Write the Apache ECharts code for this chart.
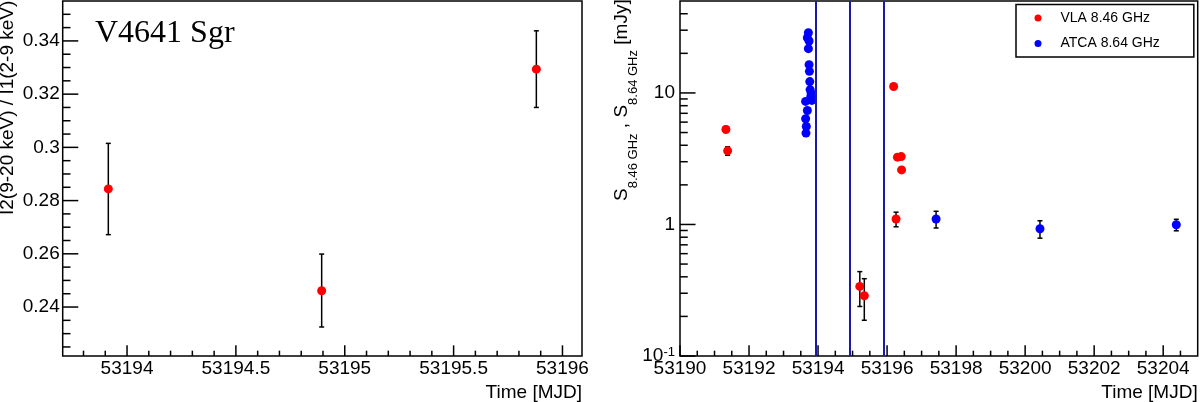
<!DOCTYPE html>
<html><head><meta charset="utf-8">
<script src="https://cdn.jsdelivr.net/npm/echarts@6/dist/echarts.min.js"></script>
<style>html,body{margin:0;padding:0;background:#fff}#c{width:1200px;height:402px}</style>
</head><body><div id="c"></div>
<script>
// ---------------- data ----------------
// Left panel: hardness ratio I2(9-20 keV)/I1(2-9 keV)
const hrTime  = [53193.914, 53194.894, 53195.880];
const hrRatio = [0.2844, 0.2461, 0.3294];
const hrLow   = [0.2672, 0.2325, 0.3150];
const hrHigh  = [0.3015, 0.2599, 0.3438];

// Right panel: VLA 8.46 GHz
const vlaTime = [53191.33, 53191.38, 53195.21, 53195.34, 53196.19, 53196.26, 53196.30, 53196.41, 53196.42];
const vlaFlux = [5.28, 3.63, 0.338, 0.287, 11.2, 1.10, 3.25, 3.28, 2.60];
const vlaErr  = [0.28, 0.27, 0.100, 0.100, 0.30, 0.14, 0.10, 0.10, 0.08];

// Right panel: ATCA 8.64 GHz
const atcaTime = [53193.72, 53193.69, 53193.74, 53193.72, 53193.74, 53193.75, 53193.76, 53193.77, 53193.80, 53193.79,
                  53193.82, 53193.64, 53193.69, 53193.64, 53193.66, 53193.65, 53197.42, 53200.43, 53204.38];
const atcaFlux = [28.7, 26.3, 24.8, 21.7, 16.4, 14.6, 12.2, 10.6, 9.97, 9.4,
                  8.77, 8.62, 7.36, 6.37, 5.56, 4.95, 1.10, 0.927, 0.995];
const atcaErr  = [0.6, 0.6, 0.5, 0.5, 0.4, 0.4, 0.3, 0.3, 0.3, 0.3,
                  0.25, 0.25, 0.25, 0.25, 0.25, 0.25, 0.16, 0.14, 0.10];

// X-ray observation epochs (vertical lines)
const xrayEpochs = [53193.93, 53194.91, 53195.90];

// axis ranges
const L_XMIN = 53193.7045, L_XMAX = 53196.0897;
const L_YMIN = 0.2216, L_YMAX = 0.3550;
const R_XMIN = 53190, R_XMAX = 53205;
const R_YMIN = 0.1, R_YMAX = 50;

// tick values
const leftXMajor = [53194, 53194.5, 53195, 53195.5, 53196];
const leftXMinor = [53193.8, 53193.9, 53194.1, 53194.2, 53194.3, 53194.4, 53194.6, 53194.7, 53194.8, 53194.9,
                    53195.1, 53195.2, 53195.3, 53195.4, 53195.6, 53195.7, 53195.8, 53195.9];
const leftYMajor = [0.24, 0.26, 0.28, 0.30, 0.32, 0.34];
const leftYMinor = [0.225, 0.23, 0.235, 0.245, 0.25, 0.255, 0.265, 0.27, 0.275, 0.285, 0.29, 0.295,
                    0.305, 0.31, 0.315, 0.325, 0.33, 0.335, 0.345, 0.35];
const rightXMajor = [53190, 53192, 53194, 53196, 53198, 53200, 53202, 53204];
const rightXMinor = [53190.5, 53191, 53191.5, 53192.5, 53193, 53193.5, 53194.5, 53195, 53195.5, 53196.5, 53197, 53197.5,
                     53198.5, 53199, 53199.5, 53200.5, 53201, 53201.5, 53202.5, 53203, 53203.5, 53204.5];
const rightYMajor = [0.1, 1, 10];
const rightYMajorLabels = ['10^-1', '1', '10'];
const rightYMinor = [0.2, 0.3, 0.4, 0.5, 0.6, 0.7, 0.8, 0.9, 2, 3, 4, 5, 6, 7, 8, 9, 20, 30, 40];

// ---------------- chart ----------------
const FONT = 'Liberation Sans';
const chart = echarts.init(document.getElementById('c'), null, {renderer: 'canvas'});

function tickData(xMaj, xMin, yMaj, yMin, xBase, yBase) {
  return [].concat(
    xMaj.map(v => [v, yBase, 0]), xMin.map(v => [v, yBase, 1]),
    yMaj.map(v => [xBase, v, 2]), yMin.map(v => [xBase, v, 3]));
}
function tickRender(params, api) {
  const p = api.coord([api.value(0), api.value(1)]);
  const k = api.value(2);
  const cs = params.coordSys;
  let shape;
  if (k < 2) {
    const len = k === 0 ? 0.03 * cs.height : 0.015 * cs.height;
    const b = cs.y + cs.height;
    shape = {x1: p[0], y1: b, x2: p[0], y2: b - len};
  } else {
    const len = k === 2 ? 0.03 * cs.width : 0.015 * cs.width;
    shape = {x1: cs.x, y1: p[1], x2: cs.x + len, y2: p[1]};
  }
  return {type: 'line', shape: shape, style: {stroke: '#000', lineWidth: 1.5}};
}
function errRender(params, api) {
  const lo = api.coord([api.value(0), api.value(1)]);
  const hi = api.coord([api.value(0), api.value(2)]);
  const st = {stroke: '#000', lineWidth: 1.5};
  const c = 2.5;
  return {type: 'group', children: [
    {type: 'line', shape: {x1: lo[0], y1: lo[1], x2: hi[0], y2: hi[1]}, style: st},
    {type: 'line', shape: {x1: lo[0] - c, y1: lo[1], x2: lo[0] + c, y2: lo[1]}, style: st},
    {type: 'line', shape: {x1: hi[0] - c, y1: hi[1], x2: hi[0] + c, y2: hi[1]}, style: st}
  ]};
}
function plainNum(v) { return String(+v.toFixed(6)); }

const labelBase = {color: '#000', fontSize: 19, fontFamily: FONT};
const nameStyle = {color: '#000', fontSize: 19, fontFamily: FONT, align: 'right', verticalAlign: 'top', padding: [27, 0, 0, 0]};

const option = {
  animation: false,
  backgroundColor: '#fff',
  grid: [
    {left: 62.7, top: 1, width: 519.3, height: 355, show: true, borderColor: '#000', borderWidth: 1.5, backgroundColor: 'transparent', containLabel: false, outerBoundsMode: 'none'},
    {left: 680, top: 1, width: 517.7, height: 355, show: true, borderColor: '#000', borderWidth: 1.5, backgroundColor: 'transparent', containLabel: false, outerBoundsMode: 'none'}
  ],
  xAxis: [
    {type: 'value', gridIndex: 0, min: L_XMIN, max: L_XMAX, splitNumber: 5, scale: true,
     axisLine: {show: false}, axisTick: {show: false}, splitLine: {show: false},
     axisLabel: Object.assign({margin: 3, showMinLabel: false, showMaxLabel: false, formatter: plainNum}, labelBase),
     name: 'Time [MJD]', nameLocation: 'end', nameGap: 0, nameMoveOverlap: false, nameTextStyle: nameStyle},
    {type: 'value', gridIndex: 1, min: R_XMIN, max: R_XMAX, interval: 2, scale: true,
     axisLine: {show: false}, axisTick: {show: false}, splitLine: {show: false},
     axisLabel: Object.assign({margin: 3, showMinLabel: true, showMaxLabel: false,
       formatter: v => (Math.abs(v - R_XMAX) < 1e-6 ? '' : plainNum(v))}, labelBase),
     name: 'Time [MJD]', nameLocation: 'end', nameGap: 0, nameMoveOverlap: false, nameTextStyle: nameStyle}
  ],
  yAxis: [
    {type: 'value', gridIndex: 0, min: L_YMIN, max: L_YMAX, splitNumber: 6, scale: true,
     axisLine: {show: false}, axisTick: {show: false}, splitLine: {show: false},
     axisLabel: Object.assign({margin: 3, showMinLabel: false, showMaxLabel: false, formatter: plainNum}, labelBase)},
    {type: 'log', gridIndex: 1, min: R_YMIN, max: R_YMAX, logBase: 10,
     axisLine: {show: false}, axisTick: {show: false}, splitLine: {show: false},
     axisLabel: Object.assign({margin: 5,
       formatter: function (v) {
         for (let i = 0; i < rightYMajor.length; i++) {
           if (Math.abs(v - rightYMajor[i]) < 1e-6 * rightYMajor[i]) {
             const parts = rightYMajorLabels[i].split('^');
             return parts.length > 1 ? '{b|' + parts[0] + '}{sup|' + parts[1] + '}' : '{b|' + parts[0] + '}';
           }
         }
         return '';
       },
       rich: {
         b: {fontSize: 19, fontFamily: FONT, color: '#000'},
         sup: {fontSize: 13, fontFamily: FONT, color: '#000', verticalAlign: 'top', padding: [0, 0, 8, 0]}
       }}, labelBase)}
  ],
  legend: {
    data: ['VLA 8.46 GHz', 'ATCA 8.64 GHz'],
    orient: 'vertical', left: 1016, top: 4.5,
    padding: [5.4, 34, 5.4, 18.5],
    itemGap: 9.6, itemWidth: 7, itemHeight: 7, icon: 'circle',
    borderColor: '#000', borderWidth: 1.5, backgroundColor: '#fff',
    textStyle: {fontSize: 14, fontFamily: FONT, color: '#000', lineHeight: 16, padding: [0, 0, 0, 14]},
    selectedMode: false
  },
  graphic: [
    {type: 'text', x: 95, y: 34, style: {text: 'V4641 Sgr', font: '32px "Liberation Serif"', fill: '#000', verticalAlign: 'middle', align: 'left'}},
    {type: 'text', x: -2, y: 215, rotation: Math.PI / 2,
     style: {text: 'I2(9-20 keV) / I1(2-9 keV)', font: '19px "Liberation Sans"', fill: '#000', align: 'left', verticalAlign: 'top'}},
    {type: 'text', x: 612.5, y: 201, rotation: Math.PI / 2,
     style: {text: '{m|S}{sub|8.46 GHz}{m| , S}{sub|8.64 GHz}{m| [mJy]}', fill: '#000', align: 'left', verticalAlign: 'top',
       font: '19px "Liberation Sans"',
       rich: {
         m: {fontSize: 19, fontFamily: FONT, fill: '#000', verticalAlign: 'top', lineHeight: 19},
         sub: {fontSize: 13, fontFamily: FONT, fill: '#000', verticalAlign: 'top', lineHeight: 13, padding: [14, 0, 0, 0]}
       }}}
  ],
  series: [
    {type: 'custom', name: 'ticksL', xAxisIndex: 0, yAxisIndex: 0, silent: true, clip: false, z: 5,
     encode: {x: 0, y: 1}, renderItem: tickRender,
     data: tickData(leftXMajor, leftXMinor, leftYMajor, leftYMinor, L_XMIN, L_YMIN)},
    {type: 'custom', name: 'ticksR', xAxisIndex: 1, yAxisIndex: 1, silent: true, clip: false, z: 5,
     encode: {x: 0, y: 1}, renderItem: tickRender,
     data: tickData(rightXMajor, rightXMinor, rightYMajor, rightYMinor, R_XMIN, R_YMIN)},
    {type: 'custom', name: 'hrErr', xAxisIndex: 0, yAxisIndex: 0, silent: true, z: 2,
     encode: {x: 0, y: [1, 2]}, renderItem: errRender,
     data: hrTime.map((t, i) => [t, hrLow[i], hrHigh[i]])},
    {type: 'scatter', name: 'Hardness ratio', xAxisIndex: 0, yAxisIndex: 0, symbol: 'circle', symbolSize: 9, z: 3,
     itemStyle: {color: '#ff0000', opacity: 1}, silent: true,
     data: hrTime.map((t, i) => [t, hrRatio[i]])},
    {type: 'custom', name: 'vlaErr', xAxisIndex: 1, yAxisIndex: 1, silent: true, z: 2,
     encode: {x: 0, y: [1, 2]}, renderItem: errRender,
     data: vlaTime.map((t, i) => [t, vlaFlux[i] - vlaErr[i], vlaFlux[i] + vlaErr[i]])},
    {type: 'custom', name: 'atcaErr', xAxisIndex: 1, yAxisIndex: 1, silent: true, z: 2,
     encode: {x: 0, y: [1, 2]}, renderItem: errRender,
     data: atcaTime.map((t, i) => [t, atcaFlux[i] - atcaErr[i], atcaFlux[i] + atcaErr[i]])},
    {type: 'scatter', name: 'VLA 8.46 GHz', xAxisIndex: 1, yAxisIndex: 1, symbol: 'circle', symbolSize: 9, z: 3,
     itemStyle: {color: '#ff0000', opacity: 1}, silent: true,
     data: vlaTime.map((t, i) => [t, vlaFlux[i]])},
    {type: 'scatter', name: 'ATCA 8.64 GHz', xAxisIndex: 1, yAxisIndex: 1, symbol: 'circle', symbolSize: 9, z: 3,
     itemStyle: {color: '#0000ff', opacity: 1}, silent: true,
     data: atcaTime.map((t, i) => [t, atcaFlux[i]]),
     markLine: {silent: true, symbol: ['none', 'none'], label: {show: false},
       lineStyle: {color: '#1a1aa6', width: 2, type: 'solid'},
       data: xrayEpochs.map(v => ({xAxis: v}))}}
  ]
};
chart.setOption(option);
</script>
</body></html>
